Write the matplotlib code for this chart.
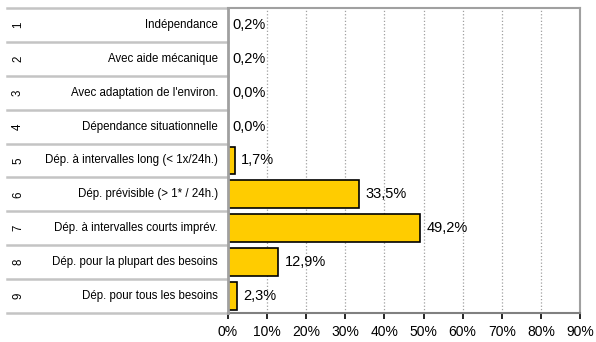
import numpy as np
import matplotlib.pyplot as plt

plt.rcParams['font.family'] = ['Liberation Sans', 'DejaVu Sans']

numbers = ['1', '2', '3', '4', '5', '6', '7', '8', '9']
labels = ['Indépendance',
          'Avec aide mécanique',
          "Avec adaptation de l'environ.",
          'Dépendance situationnelle',
          'Dép. à intervalles long (< 1x/24h.)',
          'Dép. prévisible (> 1* / 24h.)',
          'Dép. à intervalles courts imprév.',
          'Dép. pour la plupart des besoins',
          'Dép. pour tous les besoins']
values = [0.2, 0.2, 0.0, 0.0, 1.7, 33.5, 49.2, 12.9, 2.3]
xticks = [0, 10, 20, 30, 40, 50, 60, 70, 80, 90]

W, H = 596, 342
fig = plt.figure(figsize=(W / 100, H / 100), dpi=100)
left, right, top, bottom = 228, 580, 8, 313
ax = fig.add_axes([left / W, 1 - bottom / H, (right - left) / W, (bottom - top) / H])

y = np.arange(len(values))
# tiny bars disappear behind the axis line in the original
edge_w = [1.2 if v >= 0.5 else 0 for v in values]
ax.barh(y, values, height=0.82, color='#FFCC00', edgecolor='black', linewidth=edge_w, zorder=3)
for yi, v, ew in zip(y, values, edge_w):
    off = 1.7 if ew else 1.0
    ax.text(v + off, yi, ('%.1f%%' % v).replace('.', ','), va='center', ha='left',
            fontsize=10.5, zorder=4)

ax.set_xlim(0, 90)
ax.set_ylim(len(values) - 0.5, -0.5)
ax.set_xticks(xticks)
ax.set_xticklabels(['%d%%' % t for t in xticks], fontsize=10)
ax.set_yticks([])
ax.tick_params(axis='x', direction='out', length=4, width=1.2, color='black', pad=5)
ax.grid(axis='x', linestyle=':', color='#a0a0a0', linewidth=0.9, zorder=0)

for side in ['top', 'right', 'left']:
    ax.spines[side].set_color('#a0a0a0')
    ax.spines[side].set_linewidth(1.5)
ax.spines['left'].set_linewidth(2)
ax.spines['left'].set_zorder(5)
ax.spines['bottom'].set_color('#808080')
ax.spines['bottom'].set_linewidth(1.5)

# table on the left
tr = ax.get_yaxis_transform()
x0 = -(left - 7) / (right - left)
for b in np.arange(len(values) + 1) - 0.5:
    ax.plot([x0, 0], [b, b], transform=tr, color='#c4c4c4', linewidth=1.8, clip_on=False)
for yi, n, lab in zip(y, numbers, labels):
    ax.text(-(left - 18) / (right - left), yi, n, transform=tr, rotation=90,
            ha='center', va='center', fontsize=8.3)
    ax.text(-10 / (right - left), yi, lab, transform=tr, ha='right', va='center',
            fontsize=8.3)

fig.savefig('out.png', dpi=100)
